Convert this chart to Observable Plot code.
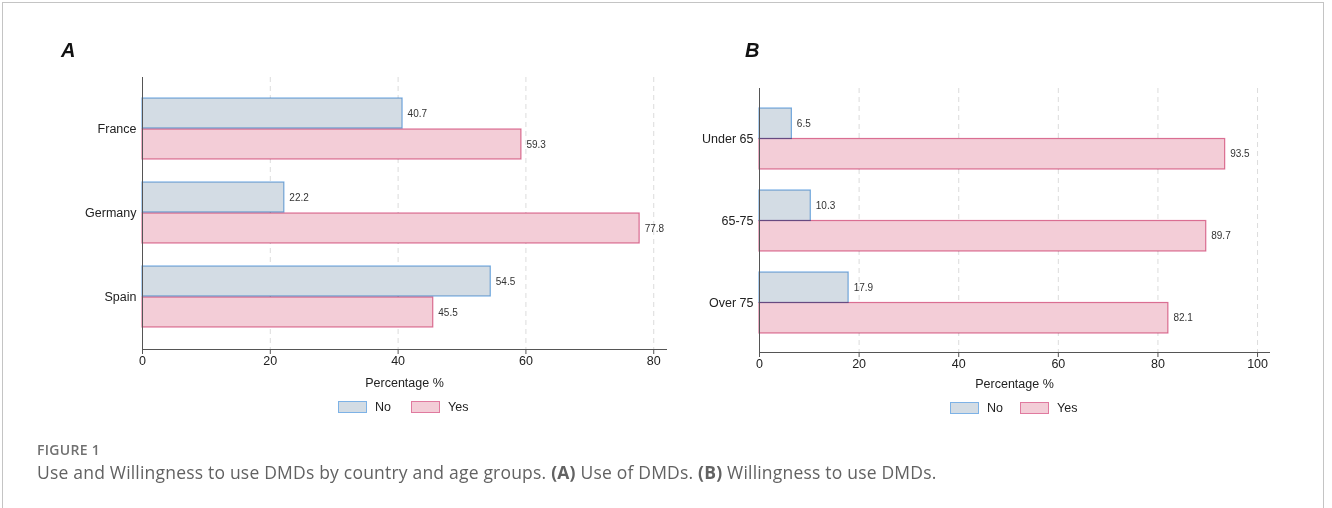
<!DOCTYPE html>
<html><head><meta charset="utf-8">
<script src="https://cdn.jsdelivr.net/npm/d3@7"></script>
<script src="https://cdn.jsdelivr.net/npm/@observablehq/plot@0.6"></script>
<style>
body{margin:0;background:#fff;}
#root{position:relative;width:1332px;height:508px;overflow:hidden;font-family:"Liberation Sans",Arial,sans-serif;color:#222;}
#border{position:absolute;left:2px;top:2px;width:1320px;height:560px;border:1px solid #c4c4c4;}
.panel{position:absolute;top:0;}
.letter{position:absolute;font:italic bold 20px/20px "Liberation Sans",Arial,sans-serif;color:#111;}
.leg{position:absolute;display:flex;align-items:center;font-size:12.5px;color:#222;}
.sw{width:27px;height:10px;border:1px solid;margin-right:8px;}
.cap1{position:absolute;left:37px;font:600 14px "Open Sans",sans-serif;letter-spacing:0.3px;color:#707070;}
.cap2{position:absolute;left:37px;font:400 17.5px "Open Sans",sans-serif;letter-spacing:0.2px;color:#626262;white-space:nowrap;}
</style></head><body>
<div id="root"><div id="border"></div></div>
<script>
// ---- data ----
const countries = ["France", "Germany", "Spain"];
const useNo = [40.7, 22.2, 54.5];
const useYes = [59.3, 77.8, 45.5];
const ageGroups = ["Under 65", "65-75", "Over 75"];
const willNo = [6.5, 10.3, 17.9];
const willYes = [93.5, 89.7, 82.1];
const responses = ["No", "Yes"];
const xTicksA = [0, 20, 40, 60, 80];
const xTicksB = [0, 20, 40, 60, 80, 100];
const xLabel = "Percentage %";
const panelLetters = ["A", "B"];
const captionTitle = "FIGURE 1";
const captionText = ["Use and Willingness to use DMDs by country and age groups. ", "(A)", " Use of DMDs. ", "(B)", " Willingness to use DMDs."];

const colors = {No: {fill: "#d3dce4", stroke: "#7db2e6"}, Yes: {fill: "#f3cdd7", stroke: "#e07a9f"}};
const root = document.getElementById("root");

function panel(cfg) {
  const data = cfg.cats.flatMap((c, i) => [
    {cat: c, resp: responses[0], v: cfg.no[i]},
    {cat: c, resp: responses[1], v: cfg.yes[i]}
  ]);
  const noD = data.filter(d => d.resp === "No");
  const yesD = data.filter(d => d.resp === "Yes");
  const h = cfg.bw / 2;
  const chart = Plot.plot({
    width: cfg.width, height: cfg.height,
    marginLeft: cfg.ml, marginRight: 10, marginTop: cfg.mt, marginBottom: cfg.mb,
    style: {fontFamily: "'Liberation Sans', Arial, sans-serif", fontSize: "12.5px", color: "#222", background: "transparent"},
    x: {domain: [0, cfg.xMax]},
    y: {domain: cfg.cats, paddingInner: cfg.pi, paddingOuter: cfg.po},
    marks: [
      Plot.gridX(cfg.ticks.filter(t => t > 0), {stroke: "#dcdcdc", strokeOpacity: 1, strokeDasharray: "5,4"}),
      Plot.barX(noD, {x: "v", y: "cat", fill: colors.No.fill, insetBottom: h}),
      Plot.barX(yesD, {x: "v", y: "cat", fill: colors.Yes.fill, insetTop: h}),
      Plot.barX(noD, {x: "v", y: "cat", fill: "none", stroke: colors.No.stroke, strokeWidth: 1.2, insetBottom: h, mixBlendMode: "multiply"}),
      Plot.barX(yesD, {x: "v", y: "cat", fill: "none", stroke: colors.Yes.stroke, strokeWidth: 1.2, insetTop: h, mixBlendMode: "multiply"}),
      Plot.text(noD, {x: "v", y: "cat", text: d => d.v.toFixed(1), dy: -h / 2, dx: 5, textAnchor: "start", fontSize: 10, fill: "#333"}),
      Plot.text(yesD, {x: "v", y: "cat", text: d => d.v.toFixed(1), dy: h / 2, dx: 5, textAnchor: "start", fontSize: 10, fill: "#333"}),
      Plot.frame({anchor: "left", stroke: "#555"}),
      Plot.frame({anchor: "bottom", stroke: "#555"}),
      Plot.axisX(cfg.ticks, {tickSize: 5, tickPadding: 2, stroke: "#555", label: xLabel, labelAnchor: "center", labelArrow: "none", labelOffset: cfg.lo}),
      Plot.axisY({tickSize: 0, tickPadding: cfg.tp, label: null})
    ]
  });
  const wrap = document.createElement("div");
  wrap.className = "panel";
  wrap.style.left = cfg.left + "px";
  wrap.appendChild(chart);
  root.appendChild(wrap);

  const L = document.createElement("div");
  L.className = "letter";
  L.style.left = cfg.letterX + "px"; L.style.top = "40px";
  L.textContent = cfg.letter;
  root.appendChild(L);

  responses.forEach((r, i) => {
    const it = document.createElement("div");
    it.className = "leg";
    it.style.left = cfg.legX[i] + "px"; it.style.top = cfg.legY + "px";
    const sw = document.createElement("div");
    sw.className = "sw";
    sw.style.background = colors[r].fill; sw.style.borderColor = colors[r].stroke;
    const t = document.createElement("span"); t.textContent = r;
    it.appendChild(sw); it.appendChild(t);
    root.appendChild(it);
  });
}

panel({cats: countries, no: useNo, yes: useYes, xMax: 82, ticks: xTicksA,
  left: 0, width: 676, height: 395, ml: 142, mt: 77, mb: 46, pi: 0.268, po: 0.2387, bw: 62, tp: 6, lo: 37,
  letter: panelLetters[0], letterX: 61, legX: [338, 411], legY: 400});
panel({cats: ageGroups, no: willNo, yes: willYes, xMax: 102.4, ticks: xTicksB,
  left: 700, width: 579, height: 395, ml: 59, mt: 88, mb: 43, pi: 0.2584, po: 0.234, bw: 61, tp: 6, lo: 35,
  letter: panelLetters[1], letterX: 745, legX: [950, 1020], legY: 401});

const c1 = document.createElement("div");
c1.className = "cap1"; c1.style.top = "440px"; c1.textContent = captionTitle;
root.appendChild(c1);
const c2 = document.createElement("div");
c2.className = "cap2"; c2.style.top = "460px";
captionText.forEach((s, i) => {
  const e = document.createElement(i % 2 ? "b" : "span");
  e.textContent = s;
  if (i % 2) e.style.fontWeight = "700";
  c2.appendChild(e);
});
root.appendChild(c2);
</script>
</body></html>
